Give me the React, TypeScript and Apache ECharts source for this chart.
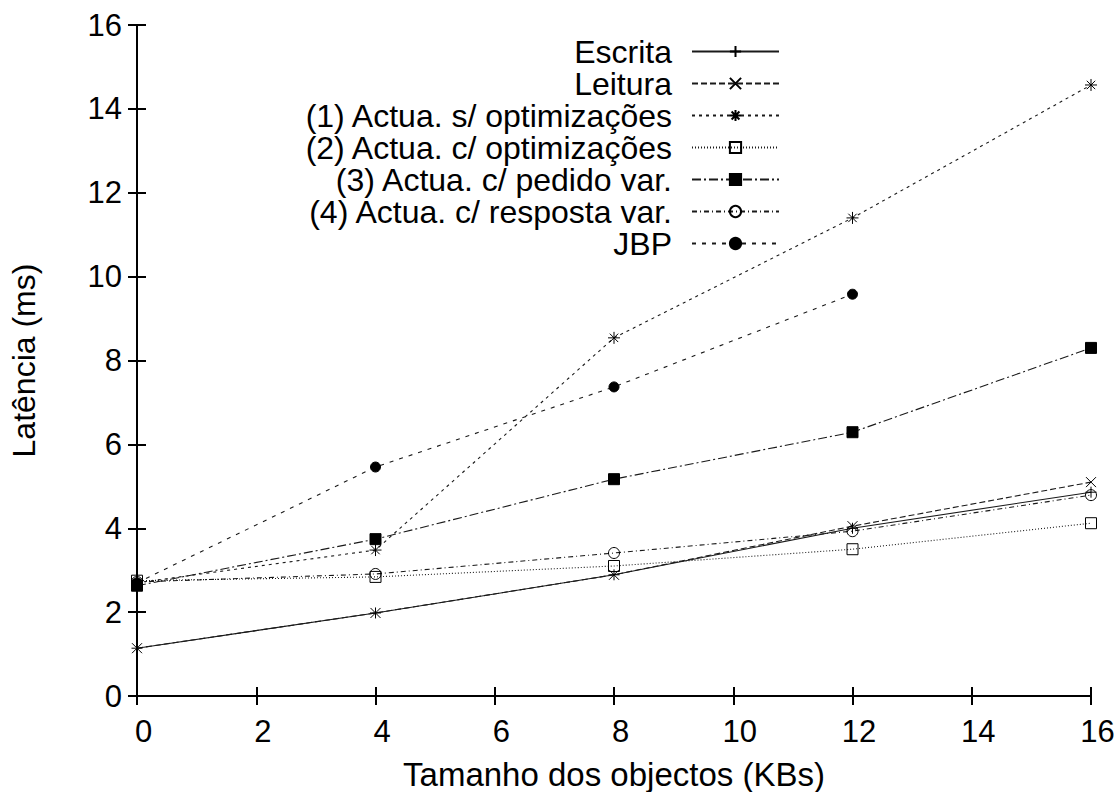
import React, { useEffect, useRef } from "react";
import * as echarts from "echarts";

const sizes = [0, 4, 8, 12, 16];
const seriesNames = [
  "Escrita",
  "Leitura",
  "(1) Actua. s/ optimizações",
  "(2) Actua. c/ optimizações",
  "(3) Actua. c/ pedido var.",
  "(4) Actua. c/ resposta var.",
  "JBP",
];
const escrita = [1.14, 1.98, 2.89, 4.0, 4.86];
const leitura = [1.14, 1.98, 2.89, 4.05, 5.1];
const semOpt = [2.7, 3.48, 8.54, 11.4, 14.57];
const comOpt = [2.75, 2.84, 3.1, 3.5, 4.12];
const pedidoVar = [2.63, 3.74, 5.17, 6.29, 8.3];
const respostaVar = [2.72, 2.91, 3.41, 3.93, 4.79];
const jbp = [2.7, 5.46, 7.37, 9.58];
const yTicks = { min: 0, max: 16, interval: 2 };
const xTicks = { min: 0, max: 16, interval: 2 };

const FONT = "Liberation Sans";
const PLUS = "path://M0,5L10,5M5,0L5,10";
const CROSS = "path://M0,0L10,10M10,0L0,10";
const STAR = "path://M0,5L10,5M5,0L5,10M1.5,1.5L8.5,8.5M8.5,1.5L1.5,8.5";

export default function App() {
  const ref = useRef<HTMLDivElement>(null);
  useEffect(() => {
    if (!ref.current) return;
    const chart = echarts.init(ref.current, null, { renderer: "svg" });
    const values = [escrita, leitura, semOpt, comOpt, pedidoVar, respostaVar, jbp];
    const symbols = [PLUS, CROSS, STAR, "rect", "rect", "circle", "circle"];
    const symbolSizes = [11, 10, 12, 11, 11, 11, 10];
    const fills = ["none", "none", "none", "none", "#000", "none", "#000"];
    const dashes: any[] = ["solid", [6, 3], [3, 4], [1, 2], [9, 3, 2, 3], [5, 3, 1, 3], [4, 6]];
    const lineColor = "#1a1a1a";
    const series = seriesNames.map((name, i) => ({
      name,
      type: "line",
      data: values[i].map((v, j) => [sizes[j], v]),
      symbol: symbols[i],
      symbolSize: symbolSizes[i],
      symbolKeepAspect: true,
      clip: false,
      itemStyle: { color: fills[i], borderColor: "#000", borderWidth: 1 },
      lineStyle: { color: lineColor, width: 1.1, type: dashes[i] },
      emphasis: { disabled: true },
    }));
    const legends = seriesNames.map((name, i) => ({
      data: [name],
      orient: "vertical",
      right: 336,
      top: 35.5 + 32 * i,
      align: "right",
      itemWidth: 87,
      itemHeight: 14,
      itemGap: 0,
      padding: 0,
      selectedMode: false,
      textStyle: {
        fontFamily: FONT,
        fontSize: 32,
        lineHeight: 29,
        color: "#000",
        padding: [0, 15, 0, 0],
      },
    }));
    const axisLine = { show: true, lineStyle: { color: "#000", width: 2 } };
    const axisTick = { show: true, inside: true, length: 9, lineStyle: { color: "#000", width: 2 } };
    chart.setOption({
      animation: false,
      backgroundColor: "#fff",
      grid: { left: 137, right: 25, top: 25, bottom: 96, show: false, outerBoundsMode: "none", containLabel: false },
      legend: legends,
      xAxis: [
        {
          type: "value",
          ...xTicks,
          position: "bottom",
          axisLine,
          axisTick,
          splitLine: { show: false },
          axisLabel: { fontFamily: FONT, fontSize: 31, color: "#000", margin: 20, padding: [0, 0, 0, 13] },
          name: "Tamanho dos objectos (KBs)",
          nameLocation: "middle",
          nameGap: 64,
          nameTextStyle: { fontFamily: FONT, fontSize: 33, lineHeight: 29, color: "#000" },
        },
        {
          type: "value",
          ...xTicks,
          position: "top",
          axisLine,
          axisTick,
          splitLine: { show: false },
          axisLabel: { show: false },
        },
      ],
      yAxis: [
        {
          type: "value",
          ...yTicks,
          position: "left",
          axisLine,
          axisTick,
          splitLine: { show: false },
          axisLabel: { fontFamily: FONT, fontSize: 31, color: "#000", margin: 15 },
          name: "Latência (ms)",
          nameLocation: "middle",
          nameRotate: 90,
          nameGap: 97,
          nameTextStyle: { fontFamily: FONT, fontSize: 32, color: "#000" },
        },
        {
          type: "value",
          ...yTicks,
          position: "right",
          axisLine,
          axisTick,
          splitLine: { show: false },
          axisLabel: { show: false },
        },
      ],
      series,
    });
    return () => chart.dispose();
  }, []);
  return (
    <div
      ref={ref}
      style={{ position: "fixed", left: 0, top: 0, width: 1116, height: 792, background: "#fff" }}
    />
  );
}
